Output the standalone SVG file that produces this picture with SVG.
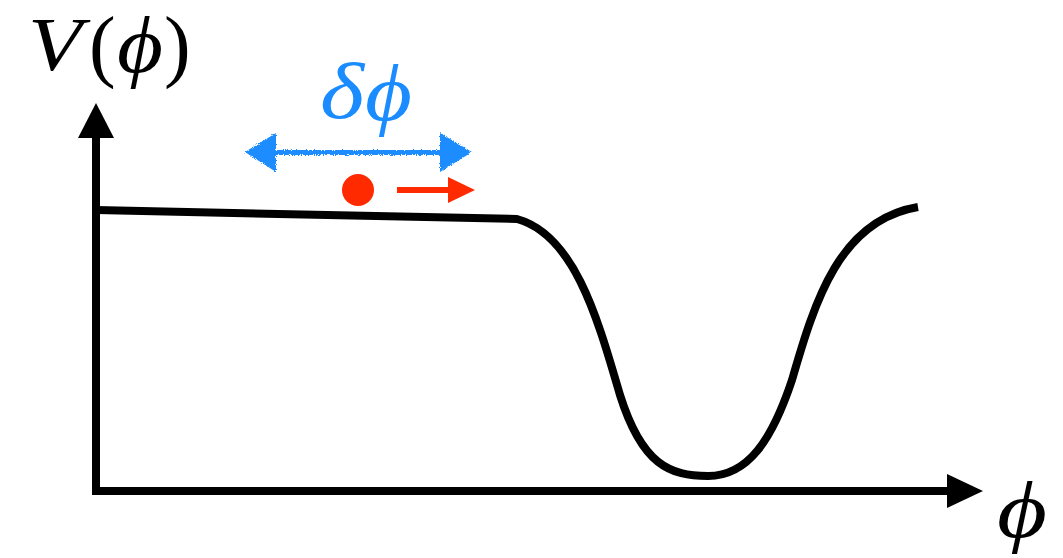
<svg xmlns="http://www.w3.org/2000/svg" width="1063" height="558" viewBox="0 0 1063 558">
<style>
.ax{stroke:#000;stroke-width:8;fill:none}
.pot{stroke:#000;stroke-width:8;fill:none;stroke-linejoin:round}
.math{font-family:"Liberation Serif","DejaVu Serif",serif;font-style:italic}
.up{font-family:"Liberation Serif","DejaVu Serif",serif;font-style:normal}
</style>
<defs>
<filter id="rough" x="-10%" y="-50%" width="120%" height="200%">
<feTurbulence type="fractalNoise" baseFrequency="0.9" numOctaves="2" seed="3" result="n"/>
<feDisplacementMap in="SourceGraphic" in2="n" scale="4" xChannelSelector="R" yChannelSelector="G"/>
</filter>
</defs>
<g id="axes">
<line class="ax" x1="96" y1="495" x2="96" y2="136"/>
<polygon points="96,103 78,138 114,138" fill="#000"/>
<line class="ax" x1="92" y1="491" x2="949" y2="491"/>
<polygon points="983,491 947,474 947,508" fill="#000"/>
</g>
<g id="potential">
<path class="pot" d="M 96 210 L 517 219 C 575 235 598 320 620 395 C 642 465 670 476 708 476 C 748 476 772 440 792 380 C 815 300 840 220 918 207"/>
</g>
<g id="labels">
<text class="math" x="28" y="70" font-size="76" textLength="54" lengthAdjust="spacingAndGlyphs">V</text>
<text class="up" x="89" y="72" font-size="80">(</text>
<text class="math" x="117" y="72" font-size="80" textLength="46" lengthAdjust="spacingAndGlyphs">ϕ</text>
<text class="up" x="164" y="72" font-size="80">)</text>
<text class="math" x="997" y="537" font-size="80" textLength="50" lengthAdjust="spacingAndGlyphs">ϕ</text>
<text class="math" x="320" y="118" font-size="80" fill="#1a8cff" textLength="44" lengthAdjust="spacingAndGlyphs">δ</text>
<text class="math" x="365" y="120" font-size="80" fill="#1a8cff" textLength="47" lengthAdjust="spacingAndGlyphs">ϕ</text>
</g>
<g id="connectors">
<g filter="url(#rough)" fill="#1a8cff">
<rect x="270" y="150" width="175" height="5"/>
<polygon points="245,152 276,133 276,172"/>
<polygon points="472,152 440,133 440,172"/>
</g>
<circle cx="358" cy="190" r="16" fill="#ff2a00"/>
<line x1="397" y1="190" x2="452" y2="190" stroke="#ff2a00" stroke-width="6"/>
<polygon points="475,190 448,177 448,203" fill="#ff2a00"/>
</g>
</svg>
